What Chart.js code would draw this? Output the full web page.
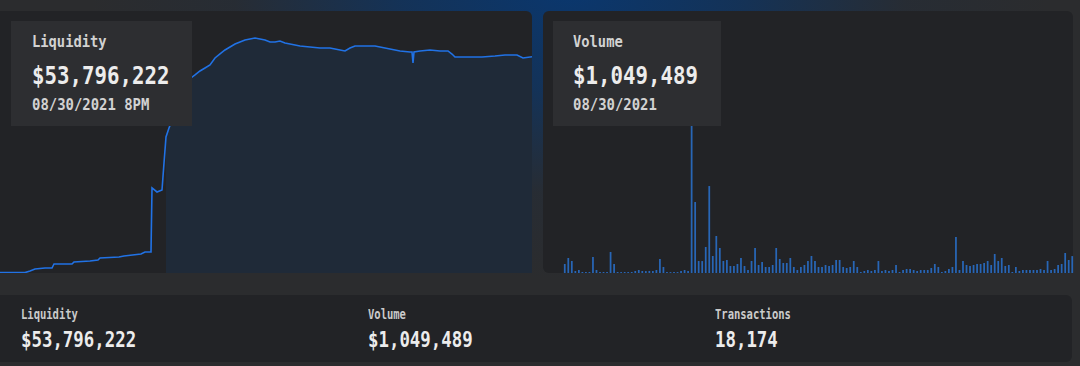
<!DOCTYPE html>
<html>
<head>
<meta charset="utf-8">
<script src="https://cdn.jsdelivr.net/npm/chart.js@4.4.1/dist/chart.umd.min.js"></script>
<style>
  html, body { margin:0; padding:0; }
  body { width:1080px; height:366px; overflow:hidden; position:relative; background:#2b2c2e; font-family:'DejaVu Sans Mono', 'Liberation Mono', monospace; }
  #glow { position:absolute; left:0; top:0; width:1080px; height:366px;
    background: radial-gradient(ellipse 480px 290px at 570px -10px, rgba(10,55,110,1) 0%, rgba(14,52,98,0.8) 35%, rgba(30,45,65,0.3) 70%, rgba(43,44,46,0) 100%); }
  .panel { position:absolute; background:#222326; border-radius:6px; }
  .box { position:absolute; background:#2d2e31; }
  .t { position:absolute; white-space:nowrap; transform-origin:0 0; line-height:1; }
  .lbl { font-size:16px; font-weight:bold; color:#d2d2d2; transform:scaleX(0.86); }
  .val { font-size:25px; font-weight:bold; color:#ececec; transform:scaleX(0.83); }
  .date { font-size:16px; font-weight:bold; color:#d2d2d2; transform:scaleX(0.87); }
  .blbl { font-size:14px; font-weight:bold; color:#cbcbcb; transform:scaleX(0.75); }
  .bval { font-size:22px; font-weight:bold; color:#ececec; transform:scaleX(0.79); }
  canvas { position:absolute; }
</style>
</head>
<body>
<div id="glow"></div>
<div class="panel" style="left:-8px; top:11px; width:540px; height:262px;"></div>
<div class="panel" style="left:543px; top:11px; width:530px; height:262px;"></div>
<div class="panel" style="left:-8px; top:295px; width:1080px; height:67px;"></div>

<canvas id="liq" width="532" height="262" style="left:0; top:11px;"></canvas>
<canvas id="vol" width="531" height="262" style="left:543px; top:11px;"></canvas>

<div class="box" style="left:11px; top:21px; width:181px; height:105px;"></div>
<div class="box" style="left:553px; top:21px; width:168px; height:105px;"></div>

<div class="t lbl" style="left:32px; top:34px;">Liquidity</div>
<div class="t val" style="left:32px; top:63px;">$53,796,222</div>
<div class="t date" style="left:32px; top:97px;">08/30/2021 8PM</div>

<div class="t lbl" style="left:573px; top:34px;">Volume</div>
<div class="t val" style="left:573px; top:63px;">$1,049,489</div>
<div class="t date" style="left:573px; top:97px;">08/30/2021</div>

<div class="t blbl" style="left:21px; top:307px;">Liquidity</div>
<div class="t bval" style="left:21px; top:329px;">$53,796,222</div>
<div class="t blbl" style="left:368px; top:307px;">Volume</div>
<div class="t bval" style="left:368px; top:329px;">$1,049,489</div>
<div class="t blbl" style="left:715px; top:307px;">Transactions</div>
<div class="t bval" style="left:715px; top:329px;">18,174</div>

<script>
// ---- Liquidity (USD millions) by hour offset ----
const liqHours = [0, 25, 30, 35, 45, 52, 54, 72, 74, 90, 98, 100, 119, 124, 141, 145, 151, 152, 157, 162, 164, 166, 169, 173, 178, 183, 187, 191, 195, 200, 205, 210, 215, 220, 225, 230, 235, 240, 245, 250, 255, 260, 265, 270, 275, 280, 285, 290, 295, 300, 310, 320, 330, 335, 340, 345, 350, 355, 375, 380, 390, 400, 410, 412, 413, 414, 420, 430, 440, 448, 452, 455, 470, 482, 495, 505, 517, 523, 532];
const liquidity = [0.1, 0.1, 0.5, 1.0, 1.24, 1.24, 2.24, 2.24, 2.74, 2.99, 3.24, 3.73, 3.98, 4.23, 4.73, 5.23, 5.23, 21.16, 20.16, 20.66, 27.38, 33.85, 36.09, 38.58, 41.57, 44.3, 46.79, 48.54, 49.28, 50.28, 51.02, 51.77, 53.51, 54.51, 55.5, 56.25, 57.0, 57.5, 57.99, 58.24, 58.49, 58.24, 57.99, 57.5, 57.5, 57.74, 57.25, 57.0, 56.75, 56.5, 56.25, 56.0, 56.0, 55.75, 55.5, 55.26, 56.0, 56.5, 56.5, 56.25, 55.75, 55.26, 55.0, 55.0, 52.27, 55.0, 55.26, 55.5, 55.26, 55.26, 54.5, 53.76, 53.76, 53.76, 54.0, 54.26, 54.26, 53.51, 53.8];
const highlightFromHour = 166;

// ---- Daily volume (USD thousands) ----
const volume = [558, 930, 744, 124, 186, 62, 60, 64, 992, 186,
  58, 62, 60, 1302, 558, 62, 58, 64, 60, 62,
  124, 186, 124, 118, 128, 122, 186, 868, 372, 60,
  55, 62, 58, 124, 186, 130, 9850, 4402, 744, 740,
  1612, 5394, 1054, 2294, 1550, 744, 806, 434, 430, 558,
  930, 434, 186, 744, 1550, 496, 682, 372, 372, 496,
  1550, 868, 620, 620, 930, 372, 186, 372, 496, 744,
  1054, 744, 372, 372, 496, 434, 496, 806, 806, 372,
  310, 372, 744, 372, 62, 124, 186, 124, 186, 744,
  124, 186, 124, 186, 496, 62, 186, 248, 248, 186,
  124, 186, 186, 186, 310, 558, 372, 62, 124, 248,
  372, 2232, 186, 744, 496, 434, 496, 558, 558, 620,
  744, 496, 1178, 744, 930, 434, 496, 62, 372, 124,
  186, 186, 186, 186, 186, 248, 186, 744, 186, 248,
  496, 558, 1240, 806, 1049];
const volumeDates = [];
(function(){
  const end = new Date(Date.UTC(2021, 7, 30));
  for (let i = volume.length - 1; i >= 0; i--) {
    const d = new Date(end.getTime() - i * 86400000);
    volumeDates.push(String(d.getUTCMonth()+1).padStart(2,'0') + '/' + String(d.getUTCDate()).padStart(2,'0') + '/' + d.getUTCFullYear());
  }
})();

const LINE_BLUE = '#2172E5';
const BAR_BLUE = '#2866b6';

const liqPoints = liqHours.map((h, i) => ({x: h, y: liquidity[i]}));
const liqFillPoints = liqPoints.filter(p => p.x >= highlightFromHour);

new Chart(document.getElementById('liq'), {
  type: 'line',
  data: {
    datasets: [
      { data: liqPoints, borderColor: LINE_BLUE, borderWidth: 1.6, pointRadius: 0, tension: 0, fill: false, order: 0 },
      { data: liqFillPoints, borderWidth: 0, borderColor: 'rgba(0,0,0,0)', backgroundColor: '#1f2a38', pointRadius: 0, tension: 0, fill: 'origin', order: 1 }
    ]
  },
  options: {
    responsive: false, animation: false,
    layout: { padding: 0 },
    plugins: { legend: { display: false }, tooltip: { enabled: false } },
    scales: {
      x: { type: 'linear', display: false, min: 0, max: 532 },
      y: { display: false, min: 0, max: 65.2 }
    }
  }
});

new Chart(document.getElementById('vol'), {
  type: 'bar',
  data: {
    labels: volumeDates,
    datasets: [{ data: volume, backgroundColor: BAR_BLUE, borderWidth: 0, barPercentage: 0.5, categoryPercentage: 1.0 }]
  },
  options: {
    responsive: false, animation: false,
    layout: { padding: { left: 20, right: 0, top: 0, bottom: 0 } },
    plugins: { legend: { display: false }, tooltip: { enabled: false } },
    scales: {
      x: { display: false },
      y: { display: false, min: 0, max: 16250 }
    }
  }
});
</script>
</body>
</html>
